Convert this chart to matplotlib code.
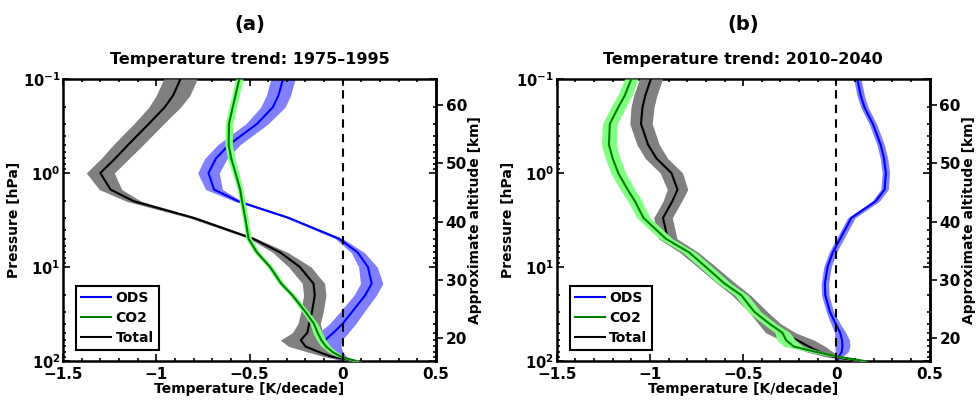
import numpy as np
import matplotlib
matplotlib.use("Agg")
import matplotlib.pyplot as plt
from matplotlib.ticker import MultipleLocator, FixedLocator, FixedFormatter, NullFormatter, NullLocator

plt.rcParams['font.family'] = ['DejaVu Sans']
plt.rcParams['font.weight'] = 'bold'
plt.rcParams['axes.labelweight'] = 'bold'
plt.rcParams['axes.titleweight'] = 'bold'
plt.rcParams['mathtext.fontset'] = 'custom'
plt.rcParams['mathtext.rm'] = 'DejaVu Sans:bold'
plt.rcParams['mathtext.bf'] = 'DejaVu Sans:bold'
plt.rcParams['mathtext.it'] = 'DejaVu Sans:bold'

# ------------------------------------------------------------------
# data
# ------------------------------------------------------------------
pressure = [0.1, 0.15, 0.2, 0.3, 0.5, 0.7, 1, 1.5, 2, 3, 5, 7, 10,
            15, 20, 30, 40, 50, 60, 70, 80, 90, 100]
altitude_ticks = [20, 30, 40, 50, 60]

# (a) 1975-1995
ods_a = [-0.32, -0.345, -0.375, -0.46, -0.61, -0.68, -0.72, -0.69, -0.56, -0.29, -0.02, 0.08, 0.135,
         0.155, 0.12, 0.05, 0.0, -0.05, -0.095, -0.10, -0.08, -0.03, 0.02]
ods_a_err = [0.065, 0.065, 0.065, 0.06, 0.06, 0.06, 0.058, 0.045, 0.02, 0.015, 0.02, 0.035, 0.05,
             0.06, 0.06, 0.065, 0.07, 0.08, 0.09, 0.09, 0.08, 0.05, 0.03]
co2_a = [-0.555, -0.575, -0.59, -0.61, -0.612, -0.598, -0.575, -0.55, -0.54, -0.523, -0.505, -0.46, -0.39,
         -0.33, -0.27, -0.20, -0.155, -0.135, -0.115, -0.09, -0.055, -0.01, 0.07]
co2_a_err = [0.02, 0.02, 0.02, 0.02, 0.02, 0.02, 0.018, 0.015, 0.015, 0.015, 0.015, 0.015, 0.015,
             0.015, 0.015, 0.018, 0.02, 0.025, 0.025, 0.025, 0.025, 0.02, 0.02]
tot_a = [-0.87, -0.91, -0.955, -1.04, -1.15, -1.22, -1.30, -1.245, -1.12, -0.80, -0.48, -0.335, -0.23,
         -0.157, -0.15, -0.165, -0.18, -0.19, -0.225, -0.20, -0.13, -0.06, 0.07]
tot_a_err = [0.09, 0.09, 0.085, 0.08, 0.08, 0.075, 0.075, 0.06, 0.04, 0.025, 0.02, 0.04, 0.06,
             0.06, 0.06, 0.06, 0.06, 0.08, 0.11, 0.09, 0.06, 0.04, 0.04]

# (b) 2010-2040
ods_b = [0.112, 0.13, 0.15, 0.195, 0.237, 0.255, 0.265, 0.258, 0.21, 0.08, 0.02, -0.02, -0.048,
         -0.062, -0.06, -0.035, -0.005, 0.02, 0.03, 0.032, 0.028, 0.012, 0.003]
ods_b_err = [0.02, 0.02, 0.02, 0.02, 0.02, 0.02, 0.02, 0.02, 0.02, 0.02, 0.02, 0.02, 0.02,
             0.02, 0.02, 0.02, 0.025, 0.03, 0.04, 0.04, 0.035, 0.02, 0.015]
co2_b = [-1.10, -1.135, -1.17, -1.215, -1.22, -1.20, -1.17, -1.12, -1.08, -1.035, -0.915, -0.79, -0.70,
         -0.60, -0.51, -0.44, -0.36, -0.29, -0.27, -0.23, -0.11, 0.01, 0.15]
co2_b_err = [0.036, 0.038, 0.04, 0.04, 0.04, 0.04, 0.04, 0.04, 0.038, 0.035, 0.035, 0.035, 0.035,
             0.035, 0.035, 0.035, 0.035, 0.04, 0.05, 0.05, 0.04, 0.03, 0.02]
tot_b = [-0.995, -1.025, -1.04, -1.048, -1.01, -0.965, -0.885, -0.852, -0.88, -0.93, -0.905, -0.79, -0.695,
         -0.59, -0.51, -0.42, -0.36, -0.30, -0.21, -0.15, -0.09, -0.02, 0.12]
tot_b_err = [0.062, 0.062, 0.062, 0.06, 0.06, 0.06, 0.06, 0.055, 0.05, 0.05, 0.05, 0.05, 0.05,
             0.05, 0.05, 0.05, 0.06, 0.08, 0.09, 0.09, 0.07, 0.04, 0.03]

panels = [
    ("(a)", "Temperature trend: 1975\u20131995", ods_a, ods_a_err, co2_a, co2_a_err, tot_a, tot_a_err),
    ("(b)", "Temperature trend: 2010\u20132040", ods_b, ods_b_err, co2_b, co2_b_err, tot_b, tot_b_err),
]

# colours
ODS_LINE, ODS_BAND = '#0000ff', '#7f7fff'
CO2_LINE, CO2_BAND = '#008000', '#80ff80'
TOT_LINE, TOT_BAND = '#000000', '#808080'


def p2z(p):
    p = np.clip(np.asarray(p, dtype=float), 1e-6, None)
    return 7.0 * np.log(1000.0 / p)


def z2p(z):
    return 1000.0 * np.exp(-np.asarray(z, dtype=float) / 7.0)


fig = plt.figure(figsize=(9.79, 4.05), dpi=100)
lefts = [63 / 979, 556.7 / 979]
p = np.array(pressure)

for left, (tag, title, ods, ods_err, co2, co2_err, tot, tot_err) in zip(lefts, panels):
    ax = fig.add_axes([left, 1 - 361 / 405, 373 / 979, 282 / 405])
    ods, ods_err = np.array(ods), np.array(ods_err)
    co2, co2_err = np.array(co2), np.array(co2_err)
    tot, tot_err = np.array(tot), np.array(tot_err)

    ax.fill_betweenx(p, ods - ods_err, ods + ods_err, color=ODS_BAND, lw=0, zorder=1)
    l1, = ax.plot(ods, p, color=ODS_LINE, lw=1.5, zorder=2)
    ax.fill_betweenx(p, tot - tot_err, tot + tot_err, color=TOT_BAND, lw=0, zorder=3)
    l3, = ax.plot(tot, p, color=TOT_LINE, lw=1.5, zorder=4)
    ax.fill_betweenx(p, co2 - co2_err, co2 + co2_err, color=CO2_BAND, lw=0, zorder=5)
    l2, = ax.plot(co2, p, color=CO2_LINE, lw=1.5, zorder=6)
    ax.axvline(0, color='black', ls=(0, (4, 3)), lw=1.5, zorder=7)

    ax.set_yscale('log')
    ax.set_ylim(100, 0.1)
    ax.set_xlim(-1.5, 0.5)
    ax.set_xticks([-1.5, -1, -0.5, 0, 0.5])
    ax.set_xticklabels(['\u22121.5', '\u22121', '\u22120.5', '0', '0.5'])
    ax.xaxis.set_minor_locator(MultipleLocator(0.1))
    ax.yaxis.set_major_locator(FixedLocator([0.1, 1, 10, 100]))
    ax.yaxis.set_major_formatter(FixedFormatter([r'$10^{-1}$', r'$10^{0}$', r'$10^{1}$', r'$10^{2}$']))
    ax.yaxis.set_minor_formatter(NullFormatter())
    ax.tick_params(which='both', direction='in', top=True, right=True, width=1.2, labelsize=11)
    ax.tick_params(which='major', length=5)
    ax.tick_params(which='minor', length=2.5)
    ax.tick_params(axis='y', which='major', pad=2, labelsize=10.5)
    ax.tick_params(axis='x', which='major', pad=4.5)
    for s in ax.spines.values():
        s.set_linewidth(1.8)

    ax.set_xlabel('Temperature [K/decade]', fontsize=10, labelpad=0)
    ax.set_ylabel('Pressure [hPa]', fontsize=10, labelpad=1)
    ax.set_title(title, fontsize=11.5, pad=11)
    ax.text(0.5, 1.195, tag, transform=ax.transAxes, ha='center', va='center',
            fontsize=14, fontweight='bold')

    sec = ax.secondary_yaxis('right', functions=(p2z, z2p))
    sec.yaxis.set_major_locator(FixedLocator(altitude_ticks))
    sec.yaxis.set_major_formatter(FixedFormatter([str(v) for v in altitude_ticks]))
    sec.yaxis.set_minor_locator(NullLocator())
    sec.tick_params(direction='out', length=5, width=1.2, labelsize=11, pad=2)
    sec.spines['right'].set_linewidth(1.8)
    sec.set_ylabel('Approximate altitude [km]', fontsize=10, labelpad=1)

    leg = ax.legend([l1, l2, l3], ['ODS', 'CO2', 'Total'], loc='lower left',
                    bbox_to_anchor=(0.035, 0.039), borderaxespad=0, fontsize=10,
                    fancybox=False, framealpha=1, edgecolor='black',
                    handlelength=2.2, handletextpad=0.3, labelspacing=0.45,
                    borderpad=0.35)
    leg.get_frame().set_linewidth(1.5)
    leg.set_zorder(10)

fig.savefig('out.png', dpi=100)
